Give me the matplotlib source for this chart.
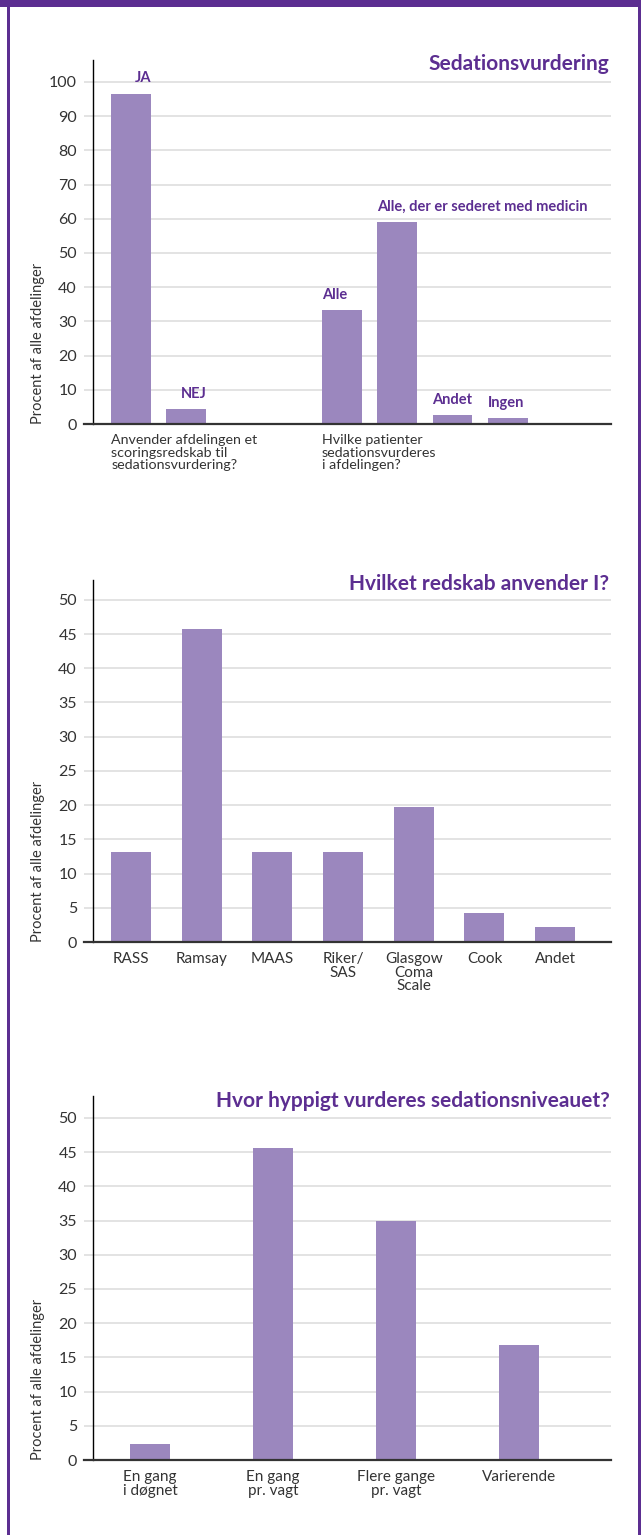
import numpy as np
import matplotlib
matplotlib.use("Agg")
import matplotlib.pyplot as plt
from matplotlib.patches import Rectangle
import matplotlib.transforms as mtransforms

plt.rcParams['font.family'] = ['Lato', 'DejaVu Sans']

# ---- data -------------------------------------------------------------
sed_bar_labels = ["JA", "NEJ", "Alle", "Alle, der er sederet med medicin", "Andet", "Ingen"]
sed_values = [96.6, 4.4, 33.2, 59.0, 2.6, 1.8]
sed_questions = ["Anvender afdelingen et\nscoringsredskab til\nsedationsvurdering?",
                 "Hvilke patienter\nsedationsvurderes\ni afdelingen?"]
sed_group_sizes = [2, 4]

tool_labels = ["RASS", "Ramsay", "MAAS", "Riker/\nSAS", "Glasgow\nComa\nScale", "Cook", "Andet"]
tool_values = [13.1, 45.7, 13.1, 13.1, 19.8, 4.2, 2.2]

freq_labels = ["En gang\ni døgnet", "En gang\npr. vagt", "Flere gange\npr. vagt", "Varierende"]
freq_values = [2.3, 45.6, 34.9, 16.8]

titles = ["Sedationsvurdering", "Hvilket redskab anvender I?",
          "Hvor hyppigt vurderes sedationsniveauet?"]
ylabel = "Procent af alle afdelinger"

# ---- style ------------------------------------------------------------
PURPLE = "#5C2E91"
BAR = "#9B87BE"
GRID = "#dedede"
TXT = "#333333"

W, H = 641, 1535
fig = plt.figure(figsize=(W / 100, H / 100), dpi=100)
fig.patch.set_facecolor("white")

# page frame
fig.patches.append(Rectangle((0, 1 - 7 / H), 1, 7 / H, transform=fig.transFigure,
                             facecolor=PURPLE, edgecolor="none"))
fig.patches.append(Rectangle((7 / W, 0), 3 / W, 1, transform=fig.transFigure,
                             facecolor=PURPLE, edgecolor="none"))
fig.patches.append(Rectangle((638 / W, 0), 3 / W, 1, transform=fig.transFigure,
                             facecolor=PURPLE, edgecolor="none"))


def make_axes(bottom_px, top_px, left_px=93, right_px=611):
    return fig.add_axes([left_px / W, 1 - bottom_px / H,
                         (right_px - left_px) / W, (bottom_px - top_px) / H])


def style_axes(ax, yticks, ymax, title, title_y):
    ax.set_ylim(0, ymax)
    ax.set_yticks(yticks)
    ax.set_yticklabels([str(t) for t in yticks], fontsize=11.5, color=TXT)
    ax.tick_params(axis="y", length=6.5, width=1.2, color=GRID, pad=5)
    ax.tick_params(axis="x", length=0, pad=7)
    for t in yticks[1:]:
        ax.axhline(t, color=GRID, lw=1.2, zorder=0)
    for s in ("top", "right"):
        ax.spines[s].set_visible(False)
    ax.spines["left"].set_color("black")
    ax.spines["left"].set_linewidth(1.0)
    ax.spines["bottom"].set_visible(False)
    width_px = ax.get_position().width * W
    trans = mtransforms.blended_transform_factory(ax.transAxes, ax.transData)
    ax.plot([-9 / width_px, 1], [0, 0], color="#333333", lw=1.6,
            transform=trans, clip_on=False, zorder=5)
    ax.text(-55 / width_px, 0, ylabel, rotation=90, ha="center", va="bottom",
            fontsize=10.5, color=TXT, transform=trans)
    ax.text(0.997, title_y, title, transform=ax.transAxes, ha="right", va="center",
            fontsize=15, fontweight="bold", color=PURPLE)


# ---- chart 1: Sedationsvurdering --------------------------------------
ax1 = make_axes(424, 60)
w1 = 0.72
group_starts = [0.0, 3.8]
pos1 = np.concatenate([s + np.arange(n) for s, n in zip(group_starts, sed_group_sizes)])
ax1.bar(pos1, sed_values, width=w1, color=BAR, zorder=2)
ax1.set_xlim(-0.686, 8.66)
style_axes(ax1, list(range(0, 101, 10)), 106.4, titles[0], 0.988)
for i, (p, v, lab) in enumerate(zip(pos1, sed_values, sed_bar_labels)):
    if i < sed_group_sizes[0]:
        x, ha = p + w1 / 2, "right"
    else:
        x, ha = p - w1 / 2, "left"
    ax1.annotate(lab, (x, v), xytext=(0, 6), textcoords="offset points",
                 ha=ha, va="bottom", fontsize=10.5, fontweight="bold", color=PURPLE)
first_idx = np.cumsum([0] + sed_group_sizes[:-1])
ax1.set_xticks([pos1[i] - w1 / 2 for i in first_idx])
ax1.set_xticklabels(sed_questions, fontsize=10.3, color=TXT, ha="left",
                    va="top", linespacing=1.08)

# ---- chart 2: Hvilket redskab -----------------------------------------
ax2 = make_axes(942, 580)
pos2 = np.arange(len(tool_values))
ax2.bar(pos2, tool_values, width=0.566, color=BAR, zorder=2)
ax2.set_xlim(-0.537, 6.79)
style_axes(ax2, list(range(0, 51, 5)), 52.9, titles[1], 0.99)
ax2.set_xticks(pos2)
ax2.set_xticklabels(tool_labels, fontsize=11, color=TXT, ha="center",
                    va="top", linespacing=0.98)

# ---- chart 3: Hvor hyppigt --------------------------------------------
ax3 = make_axes(1460, 1096)
pos3 = np.arange(len(freq_values))
ax3.bar(pos3, freq_values, width=0.325, color=BAR, zorder=2)
ax3.set_xlim(-0.463, 3.75)
style_axes(ax3, list(range(0, 51, 5)), 53.2, titles[2], 0.987)
ax3.set_xticks(pos3)
ax3.set_xticklabels(freq_labels, fontsize=11, color=TXT, ha="center",
                    va="top", linespacing=0.98)

fig.savefig("out.png", dpi=100, facecolor="white")
